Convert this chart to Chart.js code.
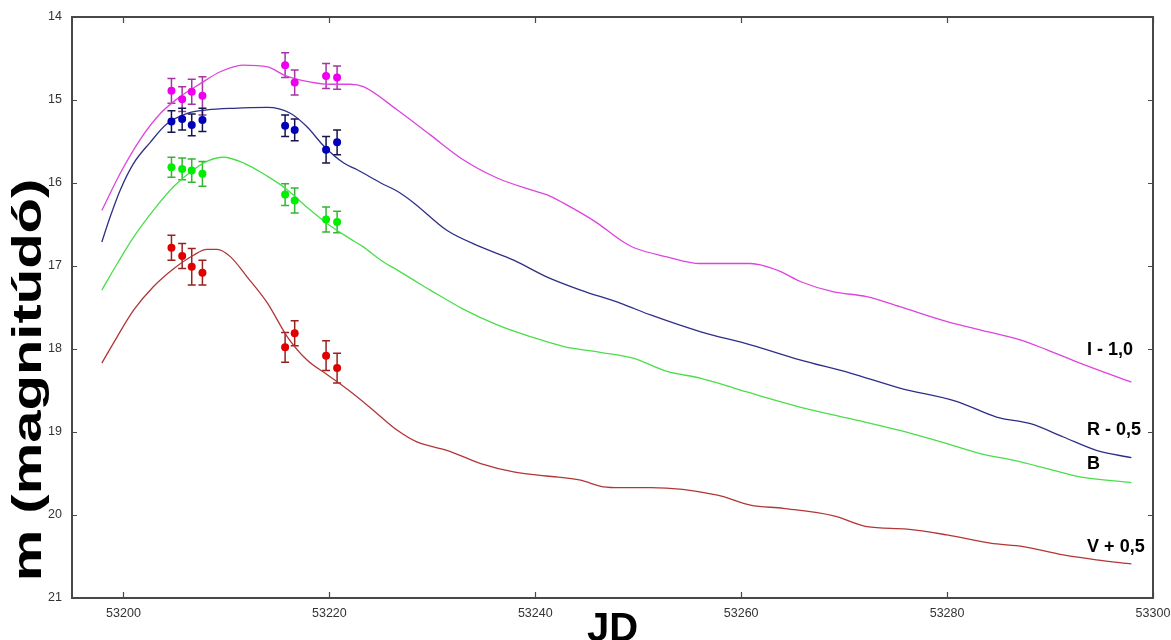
<!DOCTYPE html>
<html>
<head>
<meta charset="utf-8">
<script src="https://cdn.jsdelivr.net/npm/chart.js@4.4.0/dist/chart.umd.min.js"></script>
<style>
  html, body { margin: 0; padding: 0; background: #fff; }
</style>
</head>
<body>
<canvas id="lightCurve" width="1171" height="640"></canvas>
<script>
// --- observed points (same dates for every band) ---
const obsJD = [53204.66, 53205.7, 53206.63, 53207.67, 53215.7, 53216.63, 53219.68, 53220.75];
const iMag = [14.89, 14.99, 14.90, 14.95, 14.58, 14.79, 14.71, 14.73];
const iErr = [0.15, 0.15, 0.15, 0.23, 0.15, 0.15, 0.15, 0.14];
const rMag = [15.26, 15.23, 15.30, 15.24, 15.31, 15.36, 15.60, 15.51];
const rErr = [0.13, 0.13, 0.13, 0.14, 0.13, 0.13, 0.16, 0.15];
const bMag = [15.81, 15.83, 15.85, 15.89, 16.14, 16.21, 16.44, 16.47];
const bErr = [0.12, 0.13, 0.14, 0.15, 0.13, 0.15, 0.15, 0.13];
const vMag = [16.78, 16.88, 17.01, 17.08, 17.98, 17.81, 18.08, 18.23];
const vErr = [0.15, 0.15, 0.22, 0.15, 0.18, 0.15, 0.18, 0.18];

// --- model curves ---
const iCurveJD = [53197.9, 53199.7, 53201.6, 53203.6, 53205.5, 53207.5, 53209.4, 53211.6, 53214.0, 53215.6,
  53217.2, 53220.1, 53222.0, 53223.3, 53226.6, 53229.8, 53233.0, 53236.3, 53239.5, 53241.1,
  53242.7, 53246.0, 53248.3, 53249.6, 53252.8, 53256.0, 53260.9, 53263.5, 53265.8, 53268.9,
  53272.2, 53275.4, 53280.0, 53283.2, 53287.1, 53289.7, 53292.9, 53297.9];
const iCurveMag = [16.33, 15.88, 15.48, 15.16, 14.96, 14.80, 14.66, 14.58, 14.60, 14.70,
  14.76, 14.81, 14.81, 14.84, 15.12, 15.42, 15.72, 15.94, 16.08, 16.14,
  16.24, 16.48, 16.69, 16.78, 16.89, 16.97, 16.97, 17.05, 17.19, 17.31,
  17.37, 17.49, 17.67, 17.77, 17.89, 18.01, 18.17, 18.40];

const rCurveJD = [53197.9, 53198.7, 53199.7, 53201.0, 53202.6, 53204.2, 53206.2, 53208.1, 53210.7, 53214.0,
  53216.2, 53217.8, 53219.5, 53221.4, 53222.7, 53225.0, 53226.6, 53228.2, 53231.4, 53234.7,
  53237.9, 53241.1, 53244.4, 53248.3, 53251.2, 53256.0, 53260.9, 53265.7, 53270.6, 53275.4,
  53280.9, 53284.8, 53288.1, 53291.3, 53294.5, 53297.9];
const rCurveMag = [16.71, 16.41, 16.08, 15.76, 15.51, 15.29, 15.16, 15.12, 15.10, 15.09,
  15.16, 15.32, 15.56, 15.76, 15.84, 16.00, 16.10, 16.24, 16.57, 16.77,
  16.93, 17.13, 17.29, 17.45, 17.59, 17.79, 17.95, 18.13, 18.29, 18.47,
  18.63, 18.82, 18.90, 19.06, 19.22, 19.31];

const bCurveJD = [53197.9, 53199.4, 53201.0, 53202.9, 53204.9, 53206.8, 53208.1, 53209.7, 53211.7, 53214.0,
  53215.9, 53217.8, 53219.8, 53222.0, 53223.3, 53225.0, 53226.6, 53228.2, 53229.8, 53233.0,
  53236.3, 53239.5, 53242.8, 53246.3, 53249.5, 53252.8, 53256.0, 53259.3, 53262.5, 53265.7,
  53270.6, 53275.4, 53280.0, 53283.2, 53286.4, 53289.7, 53292.9, 53297.9];
const bCurveMag = [17.29, 16.97, 16.65, 16.33, 16.04, 15.84, 15.74, 15.69, 15.76, 15.92,
  16.08, 16.29, 16.49, 16.67, 16.77, 16.93, 17.05, 17.17, 17.29, 17.52,
  17.71, 17.85, 17.97, 18.04, 18.11, 18.27, 18.35, 18.47, 18.59, 18.70,
  18.84, 18.98, 19.14, 19.26, 19.34, 19.44, 19.54, 19.61];

const vCurveJD = [53197.9, 53199.4, 53201.0, 53202.9, 53204.9, 53206.8, 53208.1, 53209.1, 53210.4, 53212.0,
  53214.0, 53215.9, 53217.8, 53219.8, 53222.0, 53224.0, 53226.6, 53228.5, 53231.4, 53234.7,
  53237.9, 53241.1, 53244.4, 53246.6, 53248.3, 53251.2, 53257.7, 53260.9, 53264.1, 53269.0,
  53272.2, 53276.1, 53280.0, 53284.2, 53287.4, 53291.3, 53294.5, 53297.9];
const vCurveMag = [18.17, 17.85, 17.53, 17.25, 17.03, 16.87, 16.80, 16.80, 16.89, 17.13,
  17.45, 17.85, 18.13, 18.31, 18.51, 18.71, 18.98, 19.12, 19.22, 19.38,
  19.48, 19.53, 19.58, 19.66, 19.67, 19.67, 19.76, 19.88, 19.92, 20.01,
  20.14, 20.17, 20.24, 20.34, 20.38, 20.48, 20.54, 20.59];

// --- axes and labels ---
const xTickVals = [53200, 53220, 53240, 53260, 53280, 53300];
const yTickVals = [14, 15, 16, 17, 18, 19, 20, 21];
const bandNames = ['I - 1,0', 'R - 0,5', 'B', 'V + 0,5'];
const bandLabelJD = 53293.6;
const bandLabelMag = [18.01, 18.98, 19.39, 20.39];

const FONT = '"Liberation Sans", Arial, sans-serif';

const toXY = (xs, ys) => xs.map((x, i) => ({ x: x, y: ys[i] }));

function pointSet(label, mags, errs, color, barColor) {
  return {
    label: label,
    type: 'scatter',
    data: toXY(obsJD, mags),
    errors: errs,
    barColor: barColor,
    backgroundColor: color,
    borderColor: color,
    pointRadius: 4,
    borderWidth: 0
  };
}

function curveSet(label, xs, ys, color) {
  return {
    label: label,
    type: 'line',
    data: toXY(xs, ys),
    borderColor: color,
    borderWidth: 1.3,
    pointRadius: 0,
    fill: false,
    cubicInterpolationMode: 'monotone'
  };
}

// error bars, frame, inside ticks and text
const decorPlugin = {
  id: 'decor',
  beforeDatasetsDraw(chart) {
    const ctx = chart.ctx;
    const xs = chart.scales.x, ys = chart.scales.y;
    ctx.save();
    chart.data.datasets.forEach(ds => {
      if (!ds.errors) return;
      ctx.strokeStyle = ds.barColor;
      ctx.lineWidth = 1.5;
      ds.data.forEach((p, i) => {
        const px = xs.getPixelForValue(p.x);
        const top = ys.getPixelForValue(p.y - ds.errors[i]);
        const bot = ys.getPixelForValue(p.y + ds.errors[i]);
        ctx.beginPath();
        ctx.moveTo(px, top); ctx.lineTo(px, bot);
        ctx.moveTo(px - 4, top); ctx.lineTo(px + 4, top);
        ctx.moveTo(px - 4, bot); ctx.lineTo(px + 4, bot);
        ctx.stroke();
      });
    });
    ctx.restore();
  },
  afterDraw(chart) {
    const ctx = chart.ctx;
    const a = chart.chartArea;
    const xs = chart.scales.x, ys = chart.scales.y;
    ctx.save();

    // frame
    ctx.strokeStyle = '#484848';
    ctx.lineWidth = 2;
    ctx.strokeRect(a.left, a.top, a.right - a.left, a.bottom - a.top);

    // inside ticks on all four sides
    ctx.lineWidth = 1.2;
    ctx.beginPath();
    xTickVals.forEach(v => {
      const px = Math.round(xs.getPixelForValue(v)) + 0.5;
      ctx.moveTo(px, a.bottom); ctx.lineTo(px, a.bottom - 6);
      ctx.moveTo(px, a.top); ctx.lineTo(px, a.top + 6);
    });
    yTickVals.forEach(v => {
      const py = Math.round(ys.getPixelForValue(v)) + 0.5;
      ctx.moveTo(a.left, py); ctx.lineTo(a.left + 5, py);
      ctx.moveTo(a.right, py); ctx.lineTo(a.right - 5, py);
    });
    ctx.stroke();

    // band labels
    ctx.fillStyle = '#000';
    ctx.font = 'bold 18px ' + FONT;
    ctx.textAlign = 'left';
    ctx.textBaseline = 'middle';
    bandNames.forEach((name, i) => {
      ctx.fillText(name, xs.getPixelForValue(bandLabelJD), ys.getPixelForValue(bandLabelMag[i]));
    });

    // axis titles
    ctx.font = 'bold 40px ' + FONT;
    ctx.textAlign = 'center';
    ctx.textBaseline = 'top';
    ctx.fillText('JD', (a.left + a.right) / 2, 610);

    ctx.translate(30, 380);
    ctx.rotate(-Math.PI / 2);
    ctx.scale(1.45, 1);
    ctx.textBaseline = 'middle';
    ctx.fillText('m (magnitúdó)', 0, 0);
    ctx.restore();
  }
};

const ctx = document.getElementById('lightCurve').getContext('2d');

const lightChart = new Chart(ctx, {
  data: {
    datasets: [
      pointSet('I obs', iMag, iErr, '#ee00ee', '#a535a5'),
      pointSet('R obs', rMag, rErr, '#0000bb', '#15154a'),
      pointSet('B obs', bMag, bErr, '#00ee00', '#35b535'),
      pointSet('V obs', vMag, vErr, '#e00000', '#962222'),
      curveSet('I - 1,0', iCurveJD, iCurveMag, '#dd44dd'),
      curveSet('R - 0,5', rCurveJD, rCurveMag, '#2e2e88'),
      curveSet('B', bCurveJD, bCurveMag, '#4ade4a'),
      curveSet('V + 0,5', vCurveJD, vCurveMag, '#b23636')
    ]
  },
  options: {
    responsive: false,
    animation: false,
    devicePixelRatio: 1,
    layout: { padding: { left: 0, right: 18, top: 17, bottom: 0 } },
    plugins: {
      legend: { display: false },
      tooltip: { enabled: false }
    },
    scales: {
      x: {
        type: 'linear',
        min: 53195,
        max: 53300,
        afterBuildTicks: s => { s.ticks = xTickVals.map(v => ({ value: v })); },
        afterFit: s => { s.height = 42; s.paddingLeft = 0; s.paddingRight = 0; },
        grid: { display: false, drawTicks: false },
        border: { display: false },
        ticks: {
          padding: 8,
          color: '#333333',
          font: { family: FONT, size: 12.5 },
          maxRotation: 0,
          callback: v => String(v)
        }
      },
      y: {
        type: 'linear',
        reverse: true,
        min: 14,
        max: 21,
        afterBuildTicks: s => { s.ticks = yTickVals.map(v => ({ value: v })); },
        afterFit: s => { s.width = 72; s.paddingTop = 0; s.paddingBottom = 0; },
        grid: { display: false, drawTicks: false },
        border: { display: false },
        ticks: {
          padding: 10,
          color: '#333333',
          font: { family: FONT, size: 12.5 },
          callback: v => String(v)
        }
      }
    }
  },
  plugins: [decorPlugin]
});
</script>
</body>
</html>
